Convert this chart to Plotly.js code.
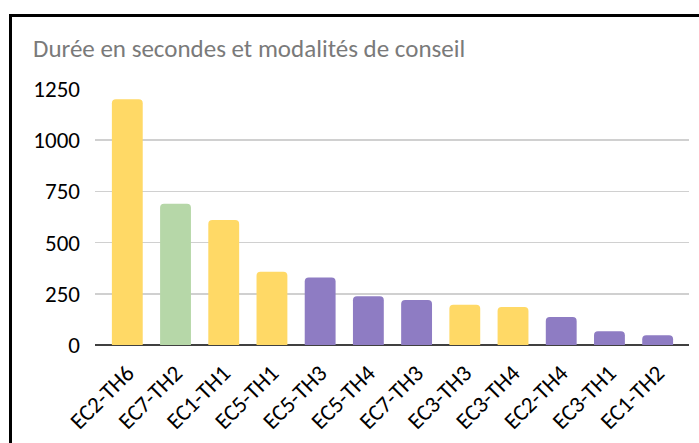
<!DOCTYPE html>
<html>
<head>
<meta charset="utf-8">
<script src="https://cdn.plot.ly/plotly-3.0.1.min.js"></script>
<style>
body{margin:0;padding:0;background:#fff;}
#wrap{position:relative;width:699px;height:443px;overflow:hidden;}
#chart{position:absolute;left:0;top:0;width:699px;height:443px;}
#frame{position:absolute;left:9px;top:14px;width:720px;height:500px;border-left:3px solid #000;border-top:3px solid #000;pointer-events:none;}
</style>
</head>
<body>
<div id="wrap"><div id="chart"></div><div id="frame"></div></div>
<script>
const categories = ["EC2-TH6","EC7-TH2","EC1-TH1","EC5-TH1","EC5-TH3","EC5-TH4","EC7-TH3","EC3-TH3","EC3-TH4","EC2-TH4","EC3-TH1","EC1-TH2"];
const durations = [1200, 690, 610, 358, 329, 238, 220, 197, 186, 137, 67, 47];
const modalities = ["yellow","green","yellow","yellow","purple","purple","purple","yellow","yellow","purple","purple","purple"];
const palette = {yellow:"#FFD966", green:"#B6D7A8", purple:"#8E7CC3"};
const yTicks = [0, 250, 500, 750, 1000, 1250];
const titleText = "Durée en secondes et modalités de conseil";

const fontFam = "Carlito, Calibri, 'Open Sans', sans-serif";

Plotly.newPlot("chart", [{
  type: "bar",
  x: categories,
  y: durations,
  marker: {color: modalities.map(m => palette[m]), cornerradius: 4, line: {width: 0}},
  hoverinfo: "x+y"
}], {
  width: 699, height: 443,
  margin: {l: 95, r: 10, t: 89, b: 98},
  paper_bgcolor: "#fff", plot_bgcolor: "#fff",
  bargap: 0.36,
  showlegend: false,
  title: {text: titleText, x: 33/699, xanchor: "left", xref: "container", y: 1 - 48/443, yanchor: "middle", yref: "container",
          font: {family: fontFam, size: 25, color: "#7a7a7a"}},
  xaxis: {
    range: [-0.67, 11.65],
    tickangle: -45, tickfont: {family: fontFam, size: 23, color: "#000"},
    ticklabelstandoff: 9,
    showline: false, showgrid: false, ticks: "", fixedrange: true
  },
  yaxis: {
    range: [0, 1250], tickvals: yTicks, ticktext: yTicks.map(String),
    tickfont: {family: fontFam, size: 23, color: "#000"},
    ticklabelstandoff: 14,
    showgrid: true, gridcolor: "#d0d0d0", gridwidth: 1.5,
    zeroline: true, zerolinecolor: "#404040", zerolinewidth: 2,
    showline: false, ticks: "", ticklen: 0, fixedrange: true
  }
}, {displayModeBar: false, staticPlot: true});
</script>
</body>
</html>
